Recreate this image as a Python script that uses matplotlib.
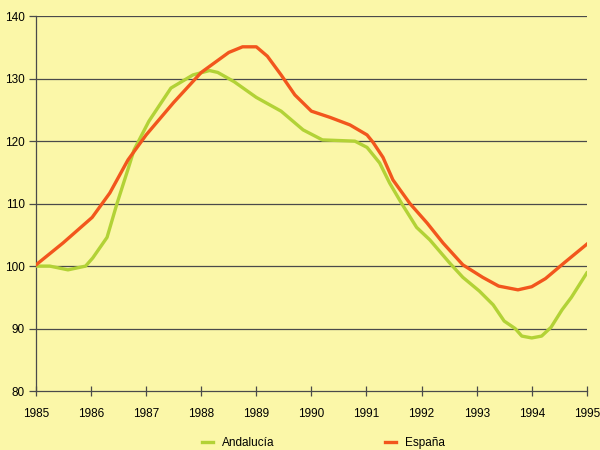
import numpy as np
import matplotlib
matplotlib.use("Agg")
from matplotlib import pyplot as plt

plt.rcParams['font.family'] = ['Liberation Sans Narrow', 'Liberation Sans', 'DejaVu Sans']

# Andalucia index
and_years = [1985.0, 1985.25, 1985.58, 1985.9, 1986.03, 1986.29, 1986.47, 1986.67, 1986.78,
             1987.05, 1987.45, 1987.85, 1988.15, 1988.3, 1988.6, 1989.0, 1989.45, 1989.85,
             1990.2, 1990.79, 1991.01, 1991.24, 1991.42, 1991.64, 1991.91, 1992.15, 1992.51,
             1992.75, 1993.05, 1993.3, 1993.5, 1993.7, 1993.82, 1994.0, 1994.18, 1994.35,
             1994.55, 1994.72, 1995.0]
andalucia = [100.0, 100.0, 99.4, 100.0, 101.3, 104.6, 110.0, 115.5, 118.6,
             123.2, 128.5, 130.6, 131.3, 131.0, 129.5, 127.0, 124.8, 121.8,
             120.2, 120.0, 119.0, 116.5, 113.3, 110.0, 106.2, 104.2, 100.5,
             98.2, 96.0, 93.8, 91.2, 90.0, 88.8, 88.5, 88.8, 90.2,
             93.0, 95.0, 98.9]

# Espana index
esp_years = [1985.0, 1985.49, 1986.02, 1986.34, 1986.67, 1987.0, 1987.5, 1988.0, 1988.5,
             1988.75, 1989.0, 1989.2, 1989.45, 1989.7, 1990.0, 1990.34, 1990.7, 1991.01,
             1991.12, 1991.3, 1991.48, 1991.79, 1992.1, 1992.39, 1992.75, 1993.11, 1993.4,
             1993.75, 1994.0, 1994.25, 1994.6, 1995.0]
espana = [100.2, 103.7, 107.8, 111.7, 117.0, 121.0, 126.2, 131.0, 134.2,
          135.1, 135.1, 133.6, 130.6, 127.4, 124.8, 123.8, 122.6, 121.0,
          119.8, 117.4, 113.8, 110.0, 106.9, 103.7, 100.2, 98.2, 96.8,
          96.2, 96.7, 98.0, 100.6, 103.5]

xticks = list(range(1985, 1996))
yticks = list(range(80, 141, 10))

bg = '#FBF7A8'
fig = plt.figure(figsize=(6, 4.5), dpi=100, facecolor=bg)
ax = fig.add_axes([0.06, 0.131, 0.918, 0.833])
ax.set_facecolor(bg)

for y in yticks[1:]:
    ax.axhline(y, color='#4a4a4a', lw=0.9, zorder=1)

ax.plot(and_years, andalucia, color='#B2D236', lw=2.4, label='Andalucía', zorder=3,
        solid_joinstyle='round')
ax.plot(esp_years, espana, color='#F2561D', lw=2.4, label='España', zorder=3,
        solid_joinstyle='round')

ax.set_xlim(1985, 1995)
ax.set_ylim(80, 140)
ax.set_xticks(xticks)
ax.set_yticks(yticks)
ax.tick_params(axis='x', direction='inout', length=7, width=0.9, color='#4a4a4a',
               labelsize=8.5, pad=9)
ax.tick_params(axis='y', direction='out', length=5, width=0.9, color='#4a4a4a',
               labelsize=8.5, pad=3)
for s in ['top', 'right']:
    ax.spines[s].set_visible(False)
for s in ['left', 'bottom']:
    ax.spines[s].set_color('#4a4a4a')
    ax.spines[s].set_linewidth(0.9)

fig.legend(loc='center left', bbox_to_anchor=(0.337, 0.016), ncol=2, frameon=False,
           fontsize=8.5, handlelength=0.95, handletextpad=0.75, columnspacing=9.3,
           borderpad=0, borderaxespad=0)

plt.savefig('out.png', dpi=100, facecolor=bg)
